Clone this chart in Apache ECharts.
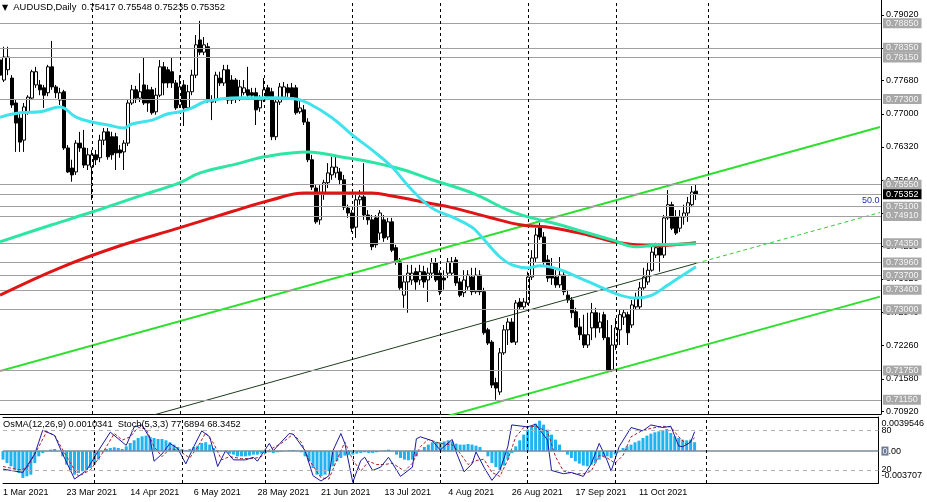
<!DOCTYPE html>
<html><head><meta charset="utf-8">
<script src="https://cdn.jsdelivr.net/npm/echarts@6/dist/echarts.min.js"></script>
<style>html,body{margin:0;padding:0;background:#fff}#c{width:927px;height:502px}</style>
</head><body><div id="c"></div>
<script>
// ---------- DATA ----------
const openP = [0.7810,0.7769,0.7790,0.7773,0.7722,0.7691,0.7646,0.7704,0.7732,0.7759,
0.7759,0.7753,0.7743,0.7796,0.7755,0.7728,0.7745,0.7630,0.7589,0.7581,
0.7640,0.7630,0.7595,0.7591,0.7616,0.7610,0.7646,0.7663,0.7653,0.7653,
0.7626,0.7622,0.7640,0.7722,0.7749,0.7732,0.7759,0.7749,0.7749,0.7704,
0.7738,0.7796,0.7790,0.7786,0.7763,0.7718,0.7759,0.7712,0.7745,0.7779,
0.7851,0.7826,0.7837,0.7728,0.7728,0.7773,0.7763,0.7790,0.7769,0.7769,
0.7732,0.7743,0.7749,0.7743,0.7743,0.7712,0.7728,0.7753,0.7745,0.7653,
0.7724,0.7734,0.7753,0.7753,0.7753,0.7704,0.7708,0.7683,0.7606,0.7548,
0.7483,0.7538,0.7559,0.7575,0.7579,0.7581,0.7565,0.7507,0.7497,0.7468,
0.7524,0.7530,0.7493,0.7483,0.7487,0.7456,0.7483,0.7448,0.7479,0.7426,
0.7397,0.7329,0.7356,0.7360,0.7377,0.7360,0.7377,0.7360,0.7374,0.7395,
0.7374,0.7364,0.7374,0.7374,0.7401,0.7356,0.7334,0.7346,0.7366,0.7336,
0.7370,0.7336,0.7258,0.7233,0.7150,0.7131,0.7211,0.7258,0.7274,0.7233,
0.7315,0.7305,0.7313,0.7366,0.7405,0.7468,0.7448,0.7401,0.7385,0.7366,
0.7350,0.7370,0.7329,0.7319,0.7295,0.7264,0.7248,0.7227,0.7262,0.7293,
0.7262,0.7289,0.7242,0.7176,0.7227,0.7258,0.7284,0.7289,0.7268,0.7305,
0.7305,0.7344,0.7356,0.7380,0.7411,0.7426,0.7411,0.7487,0.7514,0.7489,
0.7466,0.7489,0.7497,0.7514,0.75417];
const closeP = [0.7779,0.7816,0.7816,0.7718,0.7681,0.7642,0.7714,0.7734,0.7786,0.7786,
0.7749,0.7738,0.7796,0.7755,0.7743,0.7743,0.7630,0.7581,0.7575,0.7640,
0.7630,0.7595,0.7616,0.7616,0.7606,0.7646,0.7663,0.7612,0.7616,0.7620,
0.7620,0.7640,0.7722,0.7749,0.7732,0.7745,0.7722,0.7722,0.7702,0.7738,
0.7796,0.7763,0.7763,0.7763,0.7712,0.7755,0.7712,0.7745,0.7779,0.7841,
0.7826,0.7841,0.7728,0.7724,0.7779,0.7763,0.7790,0.7728,0.7728,0.7730,
0.7755,0.7753,0.7738,0.7738,0.7708,0.7728,0.7749,0.7734,0.7653,0.7724,
0.7755,0.7755,0.7743,0.7734,0.7702,0.7712,0.7683,0.7606,0.7550,0.7479,
0.7538,0.7559,0.7579,0.7591,0.7591,0.7565,0.7509,0.7497,0.7466,0.7524,
0.7530,0.7493,0.7483,0.7428,0.7432,0.7497,0.7446,0.7479,0.7421,0.7397,
0.7344,0.7356,0.7374,0.7374,0.7356,0.7377,0.7356,0.7374,0.7395,0.7360,
0.7336,0.7360,0.7397,0.7397,0.7354,0.7329,0.7360,0.7370,0.7336,0.7370,
0.7336,0.7252,0.7231,0.7145,0.7139,0.7211,0.7258,0.7274,0.7233,0.7313,
0.7305,0.7315,0.7366,0.7405,0.7452,0.7448,0.7397,0.7364,0.7364,0.7350,
0.7370,0.7336,0.7319,0.7293,0.7264,0.7248,0.7227,0.7248,0.7293,0.7262,
0.7274,0.7242,0.7176,0.7227,0.7262,0.7289,0.7293,0.7252,0.7309,0.7323,
0.7344,0.7366,0.7380,0.7417,0.7426,0.7411,0.7487,0.7514,0.7466,0.7456,
0.7489,0.7497,0.7518,0.7540,0.75352];
const highP = [0.7820,0.7837,0.7837,0.7779,0.7728,0.7704,0.7722,0.7738,0.7790,0.7796,
0.7769,0.7759,0.7800,0.7849,0.7759,0.7753,0.7749,0.7636,0.7606,0.7646,
0.7663,0.7667,0.7630,0.7626,0.7626,0.7657,0.7671,0.7671,0.7663,0.7661,
0.7636,0.7646,0.7728,0.7759,0.7757,0.7783,0.7816,0.7759,0.7755,0.7753,
0.7810,0.7806,0.7796,0.7816,0.7769,0.7779,0.7769,0.7759,0.7790,0.7861,
0.7890,0.7857,0.7845,0.7738,0.7786,0.7786,0.7800,0.7800,0.7779,0.7773,
0.7769,0.7769,0.7796,0.7753,0.7753,0.7738,0.7773,0.7759,0.7753,0.7728,
0.7763,0.7765,0.7761,0.7763,0.7759,0.7728,0.7718,0.7691,0.7616,0.7554,
0.7554,0.7565,0.7599,0.7612,0.7616,0.7589,0.7575,0.7514,0.7503,0.7534,
0.7544,0.7599,0.7503,0.7493,0.7493,0.7503,0.7493,0.7487,0.7487,0.7432,
0.7405,0.7370,0.7391,0.7391,0.7385,0.7391,0.7389,0.7385,0.7405,0.7405,
0.7380,0.7380,0.7405,0.7407,0.7407,0.7364,0.7380,0.7380,0.7385,0.7385,
0.7380,0.7344,0.7262,0.7237,0.7160,0.7221,0.7268,0.7282,0.7282,0.7319,
0.7323,0.7323,0.7377,0.7421,0.7466,0.7477,0.7458,0.7411,0.7405,0.7380,
0.7407,0.7380,0.7340,0.7325,0.7303,0.7282,0.7289,0.7293,0.7313,0.7303,
0.7293,0.7295,0.7278,0.7268,0.7282,0.7299,0.7299,0.7295,0.7319,0.7334,
0.7356,0.7385,0.7397,0.7432,0.7436,0.7432,0.7493,0.7544,0.7520,0.7503,
0.7503,0.7514,0.7530,0.7552,0.75548];
const lowP = [0.7769,0.7765,0.7779,0.7712,0.7622,0.7622,0.7622,0.7698,0.7728,0.7753,
0.7738,0.7712,0.7736,0.7749,0.7732,0.7718,0.7626,0.7579,0.7561,0.7575,
0.7622,0.7589,0.7585,0.7524,0.7595,0.7601,0.7636,0.7606,0.7606,0.7585,
0.7610,0.7585,0.7634,0.7718,0.7722,0.7724,0.7718,0.7704,0.7698,0.7698,
0.7734,0.7738,0.7753,0.7753,0.7708,0.7712,0.7675,0.7708,0.7738,0.7773,
0.7820,0.7820,0.7722,0.7687,0.7722,0.7757,0.7757,0.7720,0.7720,0.7722,
0.7726,0.7738,0.7732,0.7732,0.7677,0.7704,0.7724,0.7728,0.7646,0.7646,
0.7718,0.7728,0.7734,0.7728,0.7698,0.7700,0.7677,0.7601,0.7544,0.7475,
0.7473,0.7524,0.7548,0.7565,0.7569,0.7554,0.7503,0.7487,0.7458,0.7446,
0.7514,0.7483,0.7473,0.7421,0.7426,0.7442,0.7438,0.7442,0.7417,0.7391,
0.7340,0.7303,0.7293,0.7350,0.7340,0.7350,0.7344,0.7315,0.7364,0.7356,
0.7329,0.7340,0.7364,0.7368,0.7348,0.7325,0.7325,0.7340,0.7329,0.7332,
0.7329,0.7248,0.7227,0.7139,0.7115,0.7125,0.7207,0.7227,0.7231,0.7227,
0.7299,0.7299,0.7309,0.7360,0.7397,0.7442,0.7391,0.7356,0.7350,0.7344,
0.7344,0.7329,0.7313,0.7282,0.7262,0.7237,0.7221,0.7221,0.7237,0.7242,
0.7252,0.7237,0.7172,0.7172,0.7217,0.7227,0.7268,0.7227,0.7262,0.7299,
0.7299,0.7340,0.7350,0.7377,0.7405,0.7377,0.7405,0.7483,0.7462,0.7452,
0.7458,0.7473,0.7479,0.7509,0.75235];

// moving averages: [bar index, price]
const maFast = [[0,0.7693],[5,0.7702],[10,0.7704],[15,0.7714],[19,0.7693],[23,0.7683],[27,0.7677],[31,0.7671],[33,0.7679],[38,0.7687],[42,0.7700],[45,0.7704],[48,0.7712],[51,0.7724],[55,0.7730],[60,0.7733],[68,0.7733],[74,0.7730],[77,0.7722],[83,0.7692],[88,0.7657],[93,0.7626],[98,0.7591],[103,0.7544],[108,0.7507],[113,0.7489],[118,0.7468],[120,0.7452],[125,0.7407],[128,0.7391],[132,0.7385],[135,0.7389],[140,0.7381],[145,0.7364],[150,0.7346],[155,0.7329],[159,0.7323],[163,0.7329],[167,0.7350],[170,0.7366],[174,0.7387]];
const maMid = [[0,0.7438],[13,0.7473],[23,0.7499],[32,0.7524],[38,0.7540],[45,0.7559],[50,0.7579],[60,0.7599],[66,0.7612],[77,0.7622],[85,0.7612],[93,0.7601],[101,0.7585],[108,0.7565],[118,0.7538],[127,0.7503],[132,0.7489],[138,0.7477],[147,0.7456],[153,0.7442],[159,0.7428],[165,0.7432],[174,0.7434]];
const maSlow = [[0,0.7329],[15,0.7385],[30,0.7430],[45,0.7467],[58,0.7500],[68,0.7524],[76,0.7538],[86,0.7538],[93,0.7538],[98,0.7532],[103,0.7524],[108,0.7516],[113,0.7508],[122,0.7489],[130,0.7473],[138,0.7467],[147,0.7452],[155,0.7436],[163,0.7430],[174,0.7436]];

// channel lines: [bar index, price]
const channelUpper = [[0,0.7174],[220,0.7673]];
const channelLower = [[0,0.6829],[220,0.7326]];
const channelMid = [[0,0.6996],[174,0.7394]];
const channelMidExt = [[174,0.7394],[220,0.7498]];

// horizontal levels
const levelLines = [0.7885,0.7835,0.7815,0.7730,0.7555,0.7510,0.7491,0.7435,0.7396,0.7370,0.7340,0.7300,0.7175,0.7115];
const bidPrice = 0.75352;
const priceTicks = [0.7902,0.7834,0.7768,0.7700,0.7632,0.7564,0.7496,0.7429,0.7362,0.7294,0.7226,0.7158,0.7092];

// time axis
const monthStarts = [23,45,66,88,110,132,154,177];
const dateTickIdx = [0,16,32,48,64,80,96,112,128,144,160];
const dateLabels = ['1 Mar 2021','23 Mar 2021','14 Apr 2021','6 May 2021','28 May 2021','21 Jun 2021','13 Jul 2021','4 Aug 2021','26 Aug 2021','17 Sep 2021','11 Oct 2021'];

// OsMA histogram, one value per bar
const osma = [-0.00099,-0.00138,-0.00177,-0.00216,-0.00254,-0.00312,-0.00293,-0.00274,-0.00138,-0.00061,
-0.00022,-0.00003,0.00017,0.00024,-0.00003,-0.00061,-0.00158,-0.00235,-0.00274,-0.00254,
-0.00235,-0.00216,-0.00196,-0.00158,-0.00099,-0.00014,0.00024,0.00036,0.00044,0.00036,
0.00024,0.00055,0.00094,0.00125,0.00152,0.00171,0.00179,0.00164,0.00152,0.00140,
0.00140,0.00125,0.00102,0.00075,0.00048,0.00024,0.00009,0.00024,0.00048,0.00063,
0.00094,0.00102,0.00075,0.00036,0.00009,-0.00003,-0.00014,-0.00030,-0.00041,-0.00061,
-0.00061,-0.00061,-0.00053,-0.00041,-0.00041,-0.00030,-0.00022,-0.00014,-0.00022,-0.00014,
-0.00007,0.00001,0.00009,0.00013,0.00005,-0.00014,-0.00061,-0.00119,-0.00196,-0.00274,
-0.00293,-0.00274,-0.00235,-0.00177,-0.00119,-0.00080,-0.00053,-0.00045,-0.00041,-0.00030,
-0.00022,-0.00014,-0.00022,-0.00022,-0.00014,-0.00003,0.00009,0.00017,-0.00003,-0.00041,
-0.00080,-0.00099,-0.00107,-0.00099,-0.00061,-0.00003,0.00048,0.00075,0.00102,0.00106,
0.00102,0.00113,0.00125,0.00113,0.00086,0.00075,0.00075,0.00082,0.00075,0.00063,
0.00048,-0.00003,-0.00061,-0.00138,-0.00185,-0.00216,-0.00169,-0.00099,-0.00022,0.00055,
0.00125,0.00191,0.00249,0.00288,0.00318,0.00353,0.00307,0.00249,0.00191,0.00133,
0.00075,-0.00003,-0.00041,-0.00080,-0.00119,-0.00146,-0.00169,-0.00177,-0.00158,-0.00138,
-0.00099,-0.00061,-0.00061,-0.00080,-0.00041,-0.00014,0.00036,0.00055,0.00075,0.00102,
0.00121,0.00152,0.00179,0.00202,0.00218,0.00229,0.00241,0.00257,0.00210,0.00171,
0.00152,0.00133,0.00125,0.00133,0.00103];

// Stochastic: [bar index, value]
const stochMain = [[0,21],[5,16],[8,44],[10,80],[13,72],[15,44],[18,6],[21,19],[24,49],[27,77],[29,67],[31,57],[33,85],[35,88],[37,67],[38,33],[40,44],[42,60],[44,52],[46,29],[48,55],[50,79],[52,70],[54,25],[56,49],[58,35],[61,35],[63,39],[64,33],[67,60],[68,49],[72,75],[73,74],[76,49],[78,11],[80,3],[82,11],[83,49],[85,75],[86,60],[88,1],[90,34],[91,39],[93,19],[95,24],[97,39],[100,10],[103,24],[104,67],[105,70],[108,64],[110,50],[113,66],[114,47],[116,17],[118,29],[119,47],[121,24],[123,4],[125,19],[127,55],[128,88],[132,85],[134,89],[137,65],[138,19],[141,14],[143,16],[146,10],[148,29],[150,60],[152,34],[153,18],[155,55],[158,84],[161,79],[163,88],[166,84],[168,86],[170,56],[171,55],[173,62],[174,77.69]];
const stochSignal = [[0,25],[4,20],[6,22],[9,55],[11,78],[13,72],[16,40],[19,10],[22,20],[25,45],[28,75],[30,65],[32,70],[34,84],[36,82],[38,55],[40,40],[42,52],[44,50],[47,38],[49,55],[51,76],[53,60],[55,35],[57,40],[60,37],[63,37],[65,40],[67,50],[70,60],[73,74],[75,62],[77,35],[80,8],[82,6],[84,35],[86,62],[88,35],[90,18],[92,33],[94,28],[96,28],[98,30],[101,18],[103,30],[105,55],[107,66],[110,60],[113,58],[115,45],[117,28],[119,34],[121,36],[123,16],[125,10],[127,35],[129,70],[131,84],[134,86],[137,78],[139,40],[141,18],[144,14],[146,14],[148,18],[150,42],[152,38],[154,30],[156,42],[158,70],[161,80],[164,84],[166,86],[168,85],[170,70],[172,58],[174,68.35]];
const stochLevels = [80,20];
const osmaLabelPos = [0.00315,0,-0.00289];
const osmaLabelText = ['0.0039546','0.00','-0.003707'];

// ---------- CHART ----------
const FONT = "'Liberation Sans', Arial, sans-serif";
const XMIN = 0, XMAX = 220.25;
const YMIN = 0.70859, YMAX = 0.79327;
const OSMA_MIN = -0.003707, OSMA_MAX = 0.0039546;

const candles = openP.map((o,i)=>[i,o,closeP[i],lowP[i],highP[i]]);
const vLines = monthStarts.map(m=>({xAxis:m, lineStyle:{color:'#000',type:[3,3],width:1}}));

const chart = echarts.init(document.getElementById('c'), null, {renderer:'canvas'});
chart.setOption({
  animation:false,
  backgroundColor:'#ffffff',
  textStyle:{fontFamily:FONT},
  title:[
    {text:'{t|▼}  AUDUSD,Daily  0.75417 0.75548 0.75235 0.75352', left:2, top:3, padding:0,
     textStyle:{fontSize:9.4, fontWeight:'normal', color:'#000', fontFamily:FONT,
       rich:{t:{fontSize:8, fontFamily:"'DejaVu Sans', sans-serif", color:'#000'}}}},
    {text:'OsMA(12,26,9) 0.0010341  Stoch(5,3,3) 77.6894 68.3452', left:3, top:420, padding:0,
     textStyle:{fontSize:9.3, fontWeight:'normal', color:'#000', fontFamily:FONT}}
  ],
  graphic:[
    {type:'text', left:862, top:196, style:{text:'50.0', fill:'#1f2f9f', font:"9px 'Liberation Sans', Arial, sans-serif"}}
  ],
  grid:[
    {left:0, top:0, width:881, height:414},
    {left:0, top:417, width:881, height:66}
  ],
  xAxis:[
    {gridIndex:0, type:'value', min:XMIN, max:XMAX, axisLine:{show:true,onZero:false,lineStyle:{color:'#000'}},
     axisTick:{show:false}, axisLabel:{show:false}, splitLine:{show:false}},
    {gridIndex:1, type:'value', min:XMIN, max:XMAX, position:'bottom',
     axisLine:{show:true,onZero:false,lineStyle:{color:'#000'}}, axisTick:{show:false}, splitLine:{show:false},
     axisLabel:{customValues:dateTickIdx, formatter:v=>dateLabels[dateTickIdx.indexOf(Math.round(v))]||'',
       align:'left', margin:5, fontSize:9, color:'#000', fontFamily:FONT}},
    {gridIndex:1, type:'value', min:XMIN, max:XMAX, position:'top',
     axisLine:{show:true,onZero:false,lineStyle:{color:'#000'}}, axisTick:{show:false}, axisLabel:{show:false}, splitLine:{show:false}}
  ],
  yAxis:[
    {gridIndex:0, type:'value', position:'right', min:YMIN, max:YMAX,
     axisLine:{show:true,onZero:false,lineStyle:{color:'#000'}},
     axisTick:{show:true, customValues:priceTicks, length:3, lineStyle:{color:'#000'}},
     axisLabel:{customValues:priceTicks, formatter:v=>v.toFixed(5), fontSize:9, color:'#000', margin:5, fontFamily:FONT},
     splitLine:{show:false}},
    {gridIndex:0, type:'value', position:'right', min:YMIN, max:YMAX, z:5,
     axisLine:{show:false}, axisTick:{show:false}, splitLine:{show:false},
     axisLabel:{customValues:levelLines, formatter:v=>v.toFixed(5), fontSize:9, color:'#f4f4f4',
       backgroundColor:'#a8a8a8', padding:[1,3,0,3], margin:2, fontFamily:FONT}},
    {gridIndex:0, type:'value', position:'right', min:YMIN, max:YMAX, z:6,
     axisLine:{show:false}, axisTick:{show:false}, splitLine:{show:false},
     axisLabel:{customValues:[bidPrice], formatter:v=>v.toFixed(5), fontSize:9, color:'#ffffff',
       backgroundColor:'#000000', padding:[1,3,0,3], margin:2, fontFamily:FONT}},
    {gridIndex:1, type:'value', position:'right', min:OSMA_MIN, max:OSMA_MAX,
     axisLine:{show:true,onZero:false,lineStyle:{color:'#000'}}, axisTick:{show:false}, splitLine:{show:false},
     axisLabel:{customValues:osmaLabelPos, fontSize:9, color:'#000', margin:3, fontFamily:FONT,
       formatter:v=>{const k=osmaLabelPos.indexOf(v); const s=k>=0?osmaLabelText[k]:''; return s==='0.00'?'{h|0}.00':s;},
       rich:{h:{backgroundColor:'#6d7b92', color:'#e8eeff', fontSize:9, padding:[0,1]}}}},
    {gridIndex:1, type:'value', position:'right', min:0, max:100,
     axisLine:{show:false}, axisTick:{show:false}, splitLine:{show:false},
     axisLabel:{customValues:stochLevels, fontSize:9, color:'#000', margin:3, fontFamily:FONT}}
  ],
  series:[
    {type:'candlestick', xAxisIndex:0, yAxisIndex:0, data:candles, encode:{x:0,y:[1,2,3,4]},
     barWidth:3, clip:true, z:3,
     itemStyle:{color:'#ffffff', color0:'#000000', borderColor:'#000000', borderColor0:'#000000', borderWidth:1},
     markLine:{silent:true, symbol:['none','none'], label:{show:false}, animation:false, precision:6,
       data:[...levelLines.map(v=>({yAxis:v, lineStyle:{color:'#a0a0a0',type:'solid',width:1}})),
             {yAxis:bidPrice, lineStyle:{color:'#a0a0a0',type:'solid',width:1}},
             ...vLines]}},
    {type:'line', xAxisIndex:0, yAxisIndex:0, data:channelUpper, showSymbol:false, z:4,
     lineStyle:{color:'#2ee02e', width:2}},
    {type:'line', xAxisIndex:0, yAxisIndex:0, data:channelLower, showSymbol:false, z:4,
     lineStyle:{color:'#2ee02e', width:2}},
    {type:'line', xAxisIndex:0, yAxisIndex:0, data:channelMid, showSymbol:false, z:4,
     lineStyle:{color:'#1d3d1d', width:1}},
    {type:'line', xAxisIndex:0, yAxisIndex:0, data:channelMidExt, showSymbol:false, z:4,
     lineStyle:{color:'#33cc33', width:1, type:[4,3]}},
    {type:'line', xAxisIndex:0, yAxisIndex:0, data:maSlow, showSymbol:false, smooth:0.4, z:5,
     lineStyle:{color:'#e01414', width:3}},
    {type:'line', xAxisIndex:0, yAxisIndex:0, data:maMid, showSymbol:false, smooth:0.4, z:5,
     lineStyle:{color:'#2ee6a4', width:3}},
    {type:'line', xAxisIndex:0, yAxisIndex:0, data:maFast, showSymbol:false, smooth:0.4, z:5,
     lineStyle:{color:'#40e2ec', width:3}},
    {type:'bar', xAxisIndex:1, yAxisIndex:3, data:osma.map((v,i)=>[i,v]), barWidth:3, z:2,
     itemStyle:{color:'#1fb4f0'},
     markLine:{silent:true, symbol:['none','none'], label:{show:false}, animation:false, precision:6,
       data:[{yAxis:0, lineStyle:{color:'#7d8a99',type:'solid',width:1.5}}, ...vLines]}},
    {type:'line', xAxisIndex:1, yAxisIndex:4, data:stochSignal, showSymbol:false, z:3,
     lineStyle:{color:'#b0202a', width:1, type:[3,2]},
     markLine:{silent:true, symbol:['none','none'], label:{show:false}, animation:false,
       data:stochLevels.map(v=>({yAxis:v, lineStyle:{color:'#b4b4b4',type:[4,4],width:1}}))}},
    {type:'line', xAxisIndex:1, yAxisIndex:4, data:stochMain, showSymbol:false, z:4,
     lineStyle:{color:'#1a1a9e', width:1}}
  ]
});
</script></body></html>
